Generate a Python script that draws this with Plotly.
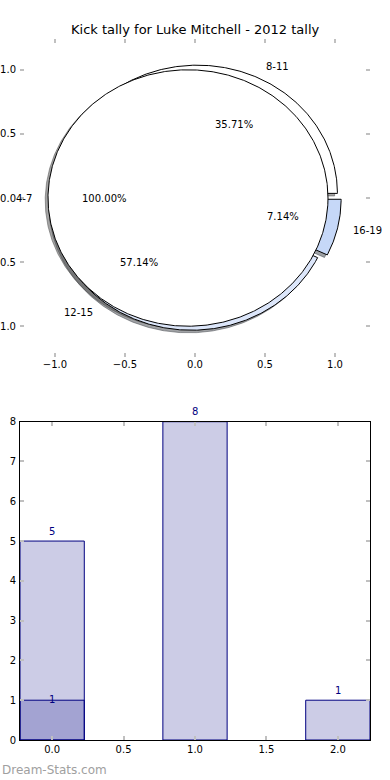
import numpy as np
import plotly.graph_objects as go

# ---------------- data ----------------
title_text = "Kick tally for Luke Mitchell - 2012 tally"

pie_front_labels = ["4-7"]
pie_front_values = [1]

pie_back_labels = ["8-11", "12-15", "16-19"]
pie_back_values = [5, 8, 1]

bar_x = [0, 1, 2]
bar_values = [5, 8, 1]
bar2_x = [0]
bar2_values = [1]

axis_ticks_pie = [-1.0, -0.5, 0.0, 0.5, 1.0]
axis_ticks_bar_x = [0.0, 0.5, 1.0, 1.5, 2.0]
axis_ticks_bar_y = [0, 1, 2, 3, 4, 5, 6, 7, 8]

# ---------------- styles ----------------
FONT = "DejaVu Sans"
front_colors = ["#ffffff"]
front_explode = [0.05]
back_colors = ["#ffffff", "#dce6fa", "#c6d8f8"]
back_explode = [0.04, 0.04, 0.045]
SHADOW_OFF = (-0.02, -0.02)
NAVY = "#000080"
W, H = 390, 780


def px_x(p):
    return p / W


def px_y(p):
    return 1 - p / H


fig = go.Figure()
annotations = []


def wedges(values, explode):
    total = float(sum(values))
    out = []
    start = 0.0
    for v, e in zip(values, explode):
        frac = v / total
        t1 = start
        t2 = start + 360.0 * frac
        mid = np.deg2rad((t1 + t2) / 2)
        cx, cy = e * np.cos(mid), e * np.sin(mid)
        th = np.deg2rad(np.linspace(t1, t2, max(int(abs(t2 - t1) * 2), 8)))
        xs = cx + np.cos(th)
        ys = cy + np.sin(th)
        if frac < 0.999999:
            xs = np.concatenate([[cx], xs, [cx]])
            ys = np.concatenate([[cy], ys, [cy]])
        out.append(dict(xs=xs, ys=ys, mid=mid, e=e, frac=frac))
        start = t2
    return out


back = wedges(pie_back_values, back_explode)
front = wedges(pie_front_values, front_explode)


def shadow_color(hexc):
    r = int(hexc[1:3], 16) * 0.3
    g = int(hexc[3:5], 16) * 0.3
    b = int(hexc[5:7], 16) * 0.3
    return f"rgba({r:.0f},{g:.0f},{b:.0f},0.5)"


# shadows (behind everything)
for w, c in list(zip(back, back_colors)) + list(zip(front, front_colors)):
    sc = shadow_color(c)
    fig.add_trace(go.Scatter(
        x=w["xs"] + SHADOW_OFF[0], y=w["ys"] + SHADOW_OFF[1], mode="lines",
        fill="toself", fillcolor=sc, line=dict(color=sc, width=1),
        hoverinfo="skip", showlegend=False, xaxis="x", yaxis="y"))

# wedges: back pie first, then front pie on top
for w, c in list(zip(back, back_colors)) + list(zip(front, front_colors)):
    fig.add_trace(go.Scatter(
        x=w["xs"], y=w["ys"], mode="lines", fill="toself", fillcolor=c,
        line=dict(color="black", width=1), hoverinfo="skip",
        showlegend=False, xaxis="x", yaxis="y"))

# pie labels
for wl, labels in ((back, pie_back_labels), (front, pie_front_labels)):
    for w, lab in zip(wl, labels):
        r_lab = 1.1 + w["e"]
        r_pct = 0.6 + w["e"]
        lx, ly = r_lab * np.cos(w["mid"]), r_lab * np.sin(w["mid"])
        annotations.append(dict(
            x=lx, y=ly, xref="x", yref="y", text=lab, showarrow=False,
            xanchor="left" if lx > 0 else "right", yanchor="middle",
            font=dict(family=FONT, size=10, color="black")))
        annotations.append(dict(
            x=r_pct * np.cos(w["mid"]), y=r_pct * np.sin(w["mid"]),
            xref="x", yref="y", text=f"{100 * w['frac']:.2f}%",
            showarrow=False, xanchor="center", yanchor="middle",
            font=dict(family=FONT, size=10, color="black")))

# bars
fig.add_trace(go.Bar(
    x=bar_x, y=bar_values, width=0.45,
    marker=dict(color="rgba(0,0,128,0.2)", line=dict(color=NAVY, width=1)),
    hoverinfo="skip", showlegend=False, xaxis="x2", yaxis="y2"))
fig.add_trace(go.Bar(
    x=bar2_x, y=bar2_values, width=0.45,
    marker=dict(color="rgba(0,0,128,0.2)", line=dict(color=NAVY, width=1)),
    hoverinfo="skip", showlegend=False, xaxis="x2", yaxis="y2"))

for xv, yv in zip(bar_x, bar_values):
    annotations.append(dict(
        x=xv, y=yv, xref="x2", yref="y2", text=str(yv), showarrow=False,
        xanchor="center", yanchor="middle", yshift=10,
        font=dict(family=FONT, size=10, color=NAVY)))
for xv, yv in zip(bar2_x, bar2_values):
    annotations.append(dict(
        x=xv, y=yv, xref="x2", yref="y2", text=str(yv), showarrow=False,
        xanchor="center", yanchor="middle", yshift=1,
        font=dict(family=FONT, size=10, color=NAVY)))

# title & watermark
annotations.append(dict(
    x=0.5, y=px_y(30), xref="paper", yref="paper", text=title_text,
    showarrow=False, xanchor="center", yanchor="middle",
    font=dict(family=FONT, size=13, color="black")))
annotations.append(dict(
    x=0, y=px_y(770), xref="paper", yref="paper", text="Dream-Stats.com",
    showarrow=False, xanchor="left", yanchor="middle",
    font=dict(family=FONT, size=12, color="#a0a0a0")))

tickfont = dict(family=FONT, size=10, color="black")
common = dict(showgrid=False, zeroline=False, ticks="inside", ticklen=4,
              tickwidth=2, tickcolor="#c0c0c0", tickfont=tickfont,
              tickformat=".1f", mirror="ticks", automargin=False)

fig.update_layout(
    width=W, height=H, margin=dict(l=0, r=0, t=0, b=0, autoexpand=False),
    paper_bgcolor="white", plot_bgcolor="white", barmode="overlay",
    bargap=0,
    xaxis=dict(domain=[px_x(20), px_x(370)], range=[-1.25, 1.25],
               tickvals=axis_ticks_pie, anchor="y", showline=False, **common),
    yaxis=dict(domain=[px_y(357), px_y(39)], range=[-1.24, 1.24],
               tickvals=axis_ticks_pie, anchor="x", showline=False,
               ticklabelstandoff=3, **common),
    xaxis2=dict(domain=[px_x(20), px_x(370)], range=[-0.225, 2.225],
                tickvals=axis_ticks_bar_x, anchor="y2", showline=True,
                linecolor="black", linewidth=1, **common),
    yaxis2=dict(domain=[px_y(740), px_y(421.7)], range=[0, 8],
                tickvals=axis_ticks_bar_y, anchor="x2", showline=True,
                linecolor="black", linewidth=1, ticklabelstandoff=1,
                **{**common, "tickformat": "d"}),
    annotations=annotations,
)

fig.write_html(
    "out.html",
    config={"displayModeBar": False, "staticPlot": True},
    post_script="document.body.style.margin='0';document.body.style.padding='0';",
)
